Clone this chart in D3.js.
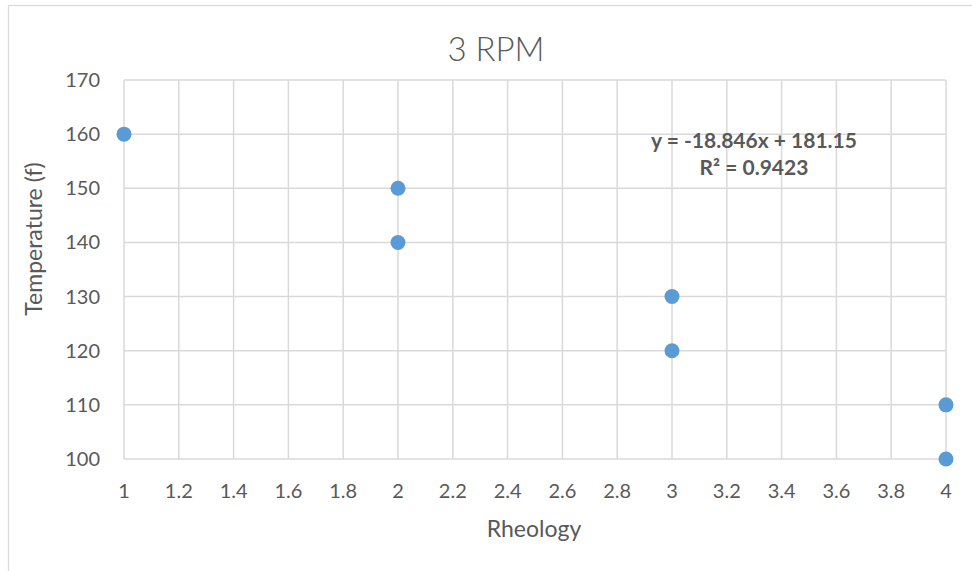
<!DOCTYPE html>
<html>
<head>
<meta charset="utf-8">
<script src="https://cdn.jsdelivr.net/npm/d3@7"></script>
<style>
  body { margin: 0; background: #fff; }
  text { font-family: Lato, "Open Sans", sans-serif; fill: #595959; }
</style>
</head>
<body>
<div id="chart"></div>
<script>
// dimensions
const width = 972;
const height = 571;

// data
const rheology = [1, 2, 2, 3, 3, 4, 4];
const temperature = [160, 150, 140, 130, 120, 110, 100];
const xTicks = [1, 1.2, 1.4, 1.6, 1.8, 2, 2.2, 2.4, 2.6, 2.8, 3, 3.2, 3.4, 3.6, 3.8, 4];
const yTicks = [100, 110, 120, 130, 140, 150, 160, 170];
const trendLabel = ["y = -18.846x + 181.15", "R² = 0.9423"];

const plot = { left: 124, right: 946, top: 80, bottom: 459 };

const x = d3.scaleLinear().domain([1, 4]).range([plot.left, plot.right]);
const y = d3.scaleLinear().domain([100, 170]).range([plot.bottom, plot.top]);

const svg = d3.select("#chart").append("svg")
    .attr("width", width)
    .attr("height", height);

// bordure du graphique
svg.append("rect")
    .attr("x", 8.5).attr("y", 5.5)
    .attr("width", width).attr("height", height)
    .attr("fill", "none")
    .attr("stroke", "#d9d9d9")
    .attr("stroke-width", 1.2);

// gridlines
svg.append("g").selectAll("line")
    .data(xTicks)
    .join("line")
    .attr("x1", d => x(d)).attr("x2", d => x(d))
    .attr("y1", plot.top).attr("y2", plot.bottom)
    .attr("stroke", "#d9d9d9").attr("stroke-width", 1.5);

svg.append("g").selectAll("line")
    .data(yTicks)
    .join("line")
    .attr("x1", plot.left).attr("x2", plot.right)
    .attr("y1", d => y(d)).attr("y2", d => y(d))
    .attr("stroke", "#d9d9d9").attr("stroke-width", 1.5);

// tick labels
svg.append("g").selectAll("text")
    .data(xTicks)
    .join("text")
    .attr("x", d => x(d))
    .attr("y", 498)
    .attr("text-anchor", "middle")
    .attr("font-size", "20px")
    .text(d => d);

svg.append("g").selectAll("text")
    .data(yTicks)
    .join("text")
    .attr("x", 100)
    .attr("y", d => y(d) + 7)
    .attr("text-anchor", "end")
    .attr("font-size", "20px")
    .text(d => d);

// titres
svg.append("text")
    .attr("x", 496).attr("y", 61)
    .attr("text-anchor", "middle")
    .attr("font-size", "33px")
    .attr("font-weight", 300)
    .text("3 RPM");

svg.append("text")
    .attr("x", 534).attr("y", 537)
    .attr("text-anchor", "middle")
    .attr("font-size", "23px")
    .text("Rheology");

svg.append("text")
    .attr("transform", "translate(42,239) rotate(-90)")
    .attr("text-anchor", "middle")
    .attr("font-size", "23px")
    .text("Temperature (f)");

// equation de la tendance
svg.append("g").selectAll("text")
    .data(trendLabel)
    .join("text")
    .attr("x", 754)
    .attr("y", (d, i) => 148 + i * 27)
    .attr("text-anchor", "middle")
    .attr("font-size", "21px")
    .attr("font-weight", "bold")
    .text(d => d);

// points
svg.append("g").selectAll("circle")
    .data(rheology.map((r, i) => ({ r, t: temperature[i] })))
    .join("circle")
    .attr("cx", d => x(d.r))
    .attr("cy", d => y(d.t))
    .attr("r", 7.5)
    .attr("fill", "#5b9bd5");
</script>
</body>
</html>
